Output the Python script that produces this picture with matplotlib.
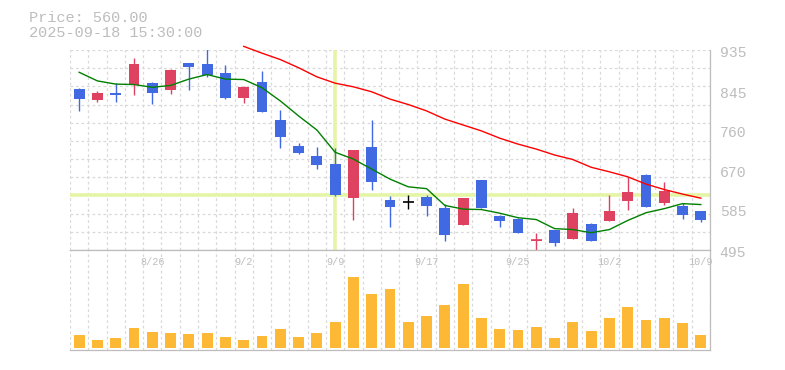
import matplotlib.pyplot as plt
import matplotlib.transforms as mtransforms
import numpy as np

# daily candles, 2025-08-20 .. 2025-10-09
dates = ['2025-08-20', '2025-08-21', '2025-08-22', '2025-08-25', '2025-08-26',
         '2025-08-27', '2025-08-28', '2025-08-29', '2025-09-01', '2025-09-02',
         '2025-09-03', '2025-09-04', '2025-09-05', '2025-09-08', '2025-09-09',
         '2025-09-10', '2025-09-11', '2025-09-12', '2025-09-16', '2025-09-17',
         '2025-09-18', '2025-09-19', '2025-09-22', '2025-09-24', '2025-09-25',
         '2025-09-26', '2025-09-29', '2025-09-30', '2025-10-01', '2025-10-02',
         '2025-10-03', '2025-10-06', '2025-10-07', '2025-10-08', '2025-10-09']
opens = [849, 826, 840, 859, 862, 846, 906, 904, 884, 830, 865, 781, 724, 702, 684,
         610, 722, 605, 601, 612, 587, 549, 649, 570, 563, 515, 539, 520, 552, 559,
         603, 660, 599, 592, 581]
highs = [852, 845, 862, 917, 865, 893, 906, 938, 902, 856, 889, 803, 730, 722, 719,
         715, 781, 614, 617, 616, 597, 609, 650, 572, 565, 533, 539, 587, 554, 617,
         655, 662, 645, 598, 581]
lows = [801, 821, 821, 835, 817, 839, 846, 876, 828, 819, 799, 720, 707, 674, 614,
        562, 628, 546, 586, 570, 515, 549, 588, 546, 532, 494, 504, 520, 515, 559,
        584, 590, 595, 564, 557]
closes = [828, 840, 835, 904, 841, 891, 898, 879, 830, 854, 799, 744, 709, 681, 615,
          715, 645, 590, 601, 592, 529, 609, 588, 559, 533, 516, 511, 576, 515, 581,
          623, 590, 625, 573, 560]
ma5 = [886, 867, 860, 859, 853, 857, 871, 881, 871, 870, 852, 823, 790, 759, 710,
       695, 673, 651, 634, 630, 593, 585, 584, 576, 566, 562, 542, 540, 533, 540,
       560, 577, 586, 597, 595]
# 25 day line only visible from 9/2 on
ma25 = [943, 928, 914, 896, 876, 862, 854, 843, 827, 815, 801, 783, 770, 757, 741,
        728, 717, 704, 694, 677, 667, 656, 640, 628, 618, 609]
volume = [130, 80, 100, 200, 160, 150, 140, 150, 110, 80, 120, 190, 110, 150, 260,
          710, 540, 590, 260, 320, 430, 640, 300, 190, 180, 210, 100, 260, 170, 300,
          410, 280, 300, 250, 130]

price_labels = [495, 585, 670, 760, 845, 935]
info_price = 560.00
info_time = '2025-09-18 15:30:00'
cross_date = '2025-09-09'
cross_price = 615

plt.rcParams['font.family'] = ['Liberation Mono', 'DejaVu Sans Mono']
GREY = '#bdbdbd'
GRID = '#d9d9d9'
UP = '#df4260'
DOWN = '#4169e1'

fig = plt.figure(figsize=(7.85, 3.70), dpi=100)
ax = fig.add_axes([70/785, 1-250/370, 640/785, 200/370])
axv = fig.add_axes([70/785, 1-350/370, 640/785, 100/370])

n = len(dates)
x = np.arange(n)
lo, hi = price_labels[0], price_labels[-1]

for a in (ax, axv):
    a.set_xlim(-0.5, n - 0.5)
    a.set_xticks([])
    a.set_yticks([])
    for s in a.spines.values():
        s.set_color(GREY)
        s.set_linewidth(0.9)
    a.spines['left'].set_visible(False)
    for b in np.arange(n + 1) - 0.5:
        a.axvline(b, color=GRID, lw=0.9, ls=(0, (2.2, 2.2)), zorder=0)
ax.spines['top'].set_visible(False)

ax.set_ylim(lo, hi)
for g in np.linspace(lo, hi, 12)[1:]:
    ax.axhline(g, color=GRID, lw=0.9, ls=(0, (2.2, 2.2)), zorder=0)

# crosshair
ci = dates.index(cross_date)
ax.axvline(ci, color='#e4f5a6', lw=2.6, zorder=1)
ax.axhline(cross_price, color='#e4f5a6', lw=2.6, zorder=1)

# candles
o = np.array(opens); c = np.array(closes)
colors = np.where(c > o, UP, np.where(c < o, DOWN, 'black'))
ax.vlines(x, lows, highs, colors=colors, lw=1.0, zorder=3)
body = np.abs(c - o)
ax.bar(x, body, bottom=np.minimum(o, c), width=0.6, color=colors, zorder=4)
flat = body < 2
ax.hlines(c[flat], x[flat] - 0.3, x[flat] + 0.3, colors=colors[flat], lw=1.2, zorder=4)

ax.plot(x, ma5, color='green', lw=1.0, zorder=5)
ax.plot(x[n - len(ma25):], ma25, color='red', lw=1.0, zorder=5, clip_on=False)

lab_tr = mtransforms.offset_copy(ax.get_yaxis_transform(), fig=fig, y=-3, units='dots')
for p in price_labels:
    ax.text(1.015, p, str(p), transform=lab_tr, ha='left',
            va='center', fontsize=10.6, color=GREY)

# volume
axv.set_ylim(-20, 980)
axv.bar(x, volume, width=0.6, color='#fdb835', zorder=2)
for i in range(4, n, 5):
    m, d = dates[i].split('-')[1:]
    axv.text(i, 0.88, f'{int(m)}/{int(d)}', transform=axv.get_xaxis_transform(),
             ha='center', va='center', fontsize=7.3, color=GREY)

fig.text(29/785, 1-18/370, f'Price: {info_price:.2f}', ha='left', va='center',
         fontsize=11, color=GREY)
fig.text(29/785, 1-33/370, info_time, ha='left', va='center', fontsize=11, color=GREY)

fig.savefig('out.png', dpi=100)
